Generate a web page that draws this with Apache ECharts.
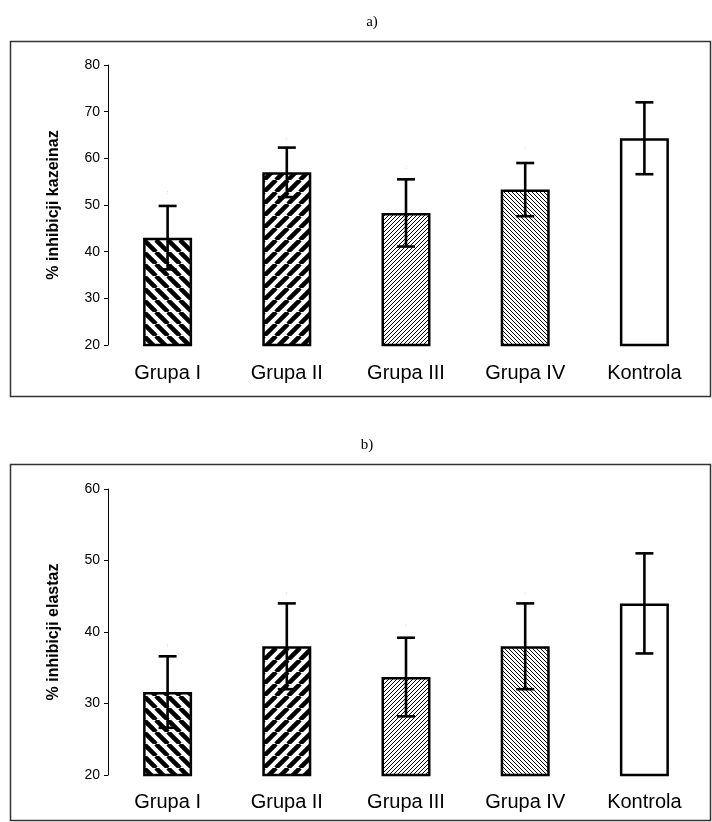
<!DOCTYPE html>
<html>
<head>
<meta charset="utf-8">
<script src="https://cdn.jsdelivr.net/npm/echarts@6/dist/echarts.min.js"></script>
<style>html,body{margin:0;padding:0;background:#fff}#c{width:712px;height:822px}</style>
</head>
<body>
<div id="c"></div>
<script>
// ---- data ----
const categories = ['Grupa I', 'Grupa II', 'Grupa III', 'Grupa IV', 'Kontrola'];
const kazeinazMean = [43.0, 57.0, 48.3, 53.3, 64.3];
const kazeinazSD   = [6.8, 5.3, 7.2, 5.7, 7.7];
const kazeinazMark = [52.7, 64.3, 58.1, 62.4];
const elastazMean  = [31.6, 38.0, 33.7, 38.0, 44.0];
const elastazSD    = [5.0, 6.0, 5.5, 6.0, 7.0];
const elastazMark  = [38.2, 45.4, 41.0, 45.4];
const yTicksA = { min: 20, max: 80, interval: 10 };
const yTicksB = { min: 20, max: 60, interval: 10 };

// ---- patterns ----
function hatch(size, lw, dir) {
  const c = document.createElement('canvas');
  c.width = c.height = size;
  const g = c.getContext('2d');
  g.fillStyle = '#fff'; g.fillRect(0, 0, size, size);
  g.strokeStyle = '#000'; g.lineWidth = lw;
  g.beginPath();
  for (const k of [-size, 0, size]) {
    if (dir === '\\') { g.moveTo(k, 0); g.lineTo(k + size, size); }
    else { g.moveTo(k, size); g.lineTo(k + size, 0); }
  }
  g.stroke();
  return c;
}
const fills = [
  { image: hatch(12, 4.5, '\\'), repeat: 'repeat' },
  { image: hatch(12, 4.5, '/'), repeat: 'repeat' },
  { image: hatch(4, 1.0, '/'), repeat: 'repeat' },
  { image: hatch(4, 1.0, '\\'), repeat: 'repeat' },
  '#fff'
];

const chart = echarts.init(document.getElementById('c'), null, { renderer: 'canvas' });

function barData(vals) {
  return vals.map((v, i) => ({ value: v, itemStyle: { color: fills[i] } }));
}
function errRender(params, api) {
  const x = api.value(0), m = api.value(1), e = api.value(2);
  const t = api.coord([x, m + e]);
  const b = api.coord([x, m - e]);
  const hw = 9;
  const st = { stroke: '#000', lineWidth: 2.6 };
  return {
    type: 'group',
    children: [
      { type: 'line', shape: { x1: t[0], y1: t[1], x2: b[0], y2: b[1] }, style: st },
      { type: 'line', shape: { x1: t[0] - hw, y1: t[1], x2: t[0] + hw, y2: t[1] }, style: st },
      { type: 'line', shape: { x1: b[0] - hw, y1: b[1], x2: b[0] + hw, y2: b[1] }, style: st }
    ]
  };
}
function markRender(params, api) {
  const p = api.coord([api.value(0), api.value(1)]);
  return { type: 'text', x: p[0], y: p[1], style: { text: ':', fill: '#999', fontSize: 6, align: 'center', verticalAlign: 'middle' } };
}

const yAxisCommon = (t, name) => ({
  type: 'value', min: t.min, max: t.max, interval: t.interval,
  axisLine: { show: true, lineStyle: { color: '#000', width: 1 } },
  axisTick: { show: true, length: 4, lineStyle: { color: '#000' } },
  splitLine: { show: false },
  axisLabel: { color: '#000', fontSize: 14, fontFamily: 'Liberation Sans, Arial', margin: 8 },
  name: name, nameLocation: 'middle', nameRotate: 90, nameGap: 46,
  nameTextStyle: { color: '#000', fontSize: 16, fontWeight: 'bold', fontFamily: 'Liberation Sans, Arial' }
});
const xAxisCommon = (gi, margin) => ({
  type: 'category', gridIndex: gi, data: categories,
  axisLine: { show: false }, axisTick: { show: false },
  axisLabel: { color: '#000', fontSize: 20, fontFamily: 'Liberation Sans, Arial', margin: margin }
});

chart.setOption({
  animation: false,
  backgroundColor: '#fff',
  grid: [
    { left: 108, right: 8, top: 65, bottom: 822 - 345 },
    { left: 108, right: 8, top: 489, bottom: 822 - 775 }
  ],
  xAxis: [xAxisCommon(0, 18), xAxisCommon(1, 17)],
  yAxis: [
    Object.assign(yAxisCommon(yTicksA, '% inhibicji kazeinaz'), { gridIndex: 0 }),
    Object.assign(yAxisCommon(yTicksB, '% inhibicji elastaz'), { gridIndex: 1 })
  ],
  series: [
    { type: 'bar', xAxisIndex: 0, yAxisIndex: 0, barWidth: 49, data: barData(kazeinazMean),
      itemStyle: { borderColor: '#000', borderWidth: 2.5 } },
    { type: 'custom', xAxisIndex: 0, yAxisIndex: 0, renderItem: errRender, z: 5,
      data: kazeinazMean.map((m, i) => [i, m, kazeinazSD[i]]) },
    { type: 'custom', xAxisIndex: 0, yAxisIndex: 0, renderItem: markRender, z: 5,
      data: kazeinazMark.map((m, i) => [i, m]) },
    { type: 'bar', xAxisIndex: 1, yAxisIndex: 1, barWidth: 49, data: barData(elastazMean),
      itemStyle: { borderColor: '#000', borderWidth: 2.5 } },
    { type: 'custom', xAxisIndex: 1, yAxisIndex: 1, renderItem: errRender, z: 5,
      data: elastazMean.map((m, i) => [i, m, elastazSD[i]]) },
    { type: 'custom', xAxisIndex: 1, yAxisIndex: 1, renderItem: markRender, z: 5,
      data: elastazMark.map((m, i) => [i, m]) }
  ],
  graphic: [
    { type: 'rect', shape: { x: 10.5, y: 41.5, width: 700, height: 355 }, style: { fill: 'none', stroke: '#333', lineWidth: 1.5 }, silent: true },
    { type: 'rect', shape: { x: 10.5, y: 464.5, width: 700, height: 356 }, style: { fill: 'none', stroke: '#333', lineWidth: 1.5 }, silent: true },
    { type: 'text', x: 372, y: 22, style: { text: 'a)', fill: '#000', font: '15px "Liberation Serif", "Times New Roman", serif', align: 'center', verticalAlign: 'middle' } },
    { type: 'text', x: 367, y: 445, style: { text: 'b)', fill: '#000', font: '15px "Liberation Serif", "Times New Roman", serif', align: 'center', verticalAlign: 'middle' } }
  ]
});
</script>
</body>
</html>
